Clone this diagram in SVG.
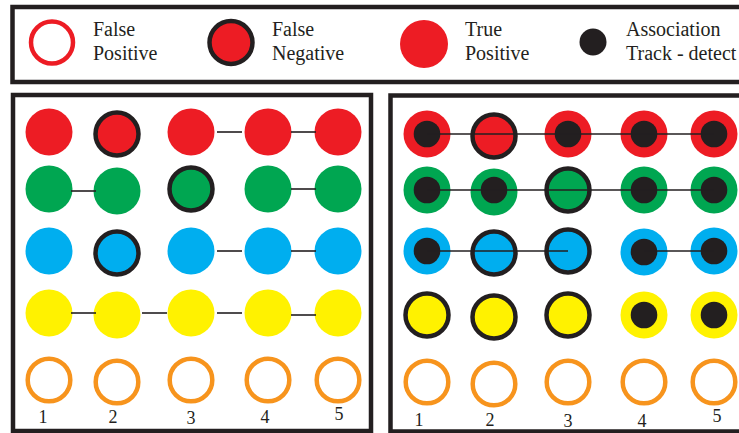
<svg xmlns="http://www.w3.org/2000/svg" width="739" height="433" viewBox="0 0 739 433">
<style>
  .frame{fill:none;stroke:#231F20;stroke-width:4.5}
  .r{fill:#ED1C24}.g{fill:#00A651}.b{fill:#00AEEF}.y{fill:#FFF200}
  .fn{stroke:#231F20;stroke-width:4.5}
  .ring{fill:#fff;stroke:#F7941D;stroke-width:4.5}
  .fp{fill:#fff;stroke:#ED1C24;stroke-width:4.5}
  .dot{fill:#231F20}
  .conn line{stroke:#231F20;stroke-width:1.6}
  .t{fill:#231F20}
  .lg{font-size:20px}
  .num{font-size:18px;text-anchor:middle}
</style>
<rect width="739" height="433" fill="#fff"/>

<!-- Legend -->
<g id="legend" font-family="'Liberation Serif', 'DejaVu Serif', serif">
  <rect class="frame" x="12.5" y="7" width="740" height="75"/>
  <g id="legend-fp"><circle class="fp" cx="52" cy="42.5" r="21"/><text class="t lg" x="93" y="36">False</text><text class="t lg" x="93" y="60">Positive</text></g>
  <g id="legend-fn"><circle class="r fn" cx="231" cy="42.5" r="21.5"/><text class="t lg" x="272" y="36">False</text><text class="t lg" x="272" y="60">Negative</text></g>
  <g id="legend-tp"><circle class="r" cx="424" cy="44" r="24"/><text class="t lg" x="465" y="36">True</text><text class="t lg" x="465" y="60">Positive</text></g>
  <g id="legend-assoc"><circle class="dot" cx="593" cy="42" r="13.5"/><text class="t lg" x="626" y="36">Association</text><text class="t lg" x="626" y="60">Track - detect</text></g>
</g>

<!-- Left panel -->
<g id="left-panel" font-family="'Liberation Serif', 'DejaVu Serif', serif">
  <rect class="frame" x="13" y="95" width="358" height="336"/>
  <g id="L-r1c1"><circle class="r" cx="49" cy="132" r="23.5"/></g>
  <g id="L-r1c2"><circle class="r fn" cx="117" cy="134" r="21.5"/></g>
  <g id="L-r1c3"><circle class="r" cx="191" cy="132" r="23.5"/></g>
  <g id="L-r1c4"><circle class="r" cx="268" cy="132" r="23.5"/></g>
  <g id="L-r1c5"><circle class="r" cx="338" cy="132" r="23.5"/></g>

  <g id="L-r2c1"><circle class="g" cx="49" cy="189" r="23.5"/></g>
  <g id="L-r2c2"><circle class="g" cx="117" cy="191" r="23.5"/></g>
  <g id="L-r2c3"><circle class="g fn" cx="191" cy="189" r="21.5"/></g>
  <g id="L-r2c4"><circle class="g" cx="268" cy="189" r="23.5"/></g>
  <g id="L-r2c5"><circle class="g" cx="338" cy="189" r="23.5"/></g>

  <g id="L-r3c1"><circle class="b" cx="49" cy="251" r="23.5"/></g>
  <g id="L-r3c2"><circle class="b fn" cx="117" cy="253" r="21.5"/></g>
  <g id="L-r3c3"><circle class="b" cx="191" cy="251" r="23.5"/></g>
  <g id="L-r3c4"><circle class="b" cx="268" cy="251" r="23.5"/></g>
  <g id="L-r3c5"><circle class="b" cx="338" cy="251" r="23.5"/></g>

  <g id="L-r4c1"><circle class="y" cx="49" cy="313" r="23.5"/></g>
  <g id="L-r4c2"><circle class="y" cx="117" cy="315" r="23.5"/></g>
  <g id="L-r4c3"><circle class="y" cx="191" cy="313" r="23.5"/></g>
  <g id="L-r4c4"><circle class="y" cx="268" cy="313" r="23.5"/></g>
  <g id="L-r4c5"><circle class="y" cx="338" cy="313" r="23.5"/></g>

  <g id="L-r5c1"><circle class="ring" cx="49" cy="380" r="21.3"/></g>
  <g id="L-r5c2"><circle class="ring" cx="117" cy="382" r="21.3"/></g>
  <g id="L-r5c3"><circle class="ring" cx="191" cy="380" r="21.3"/></g>
  <g id="L-r5c4"><circle class="ring" cx="268" cy="380" r="21.3"/></g>
  <g id="L-r5c5"><circle class="ring" cx="338" cy="380" r="21.3"/></g>

  <text class="t num" x="43" y="423">1</text>
  <text class="t num" x="113" y="423">2</text>
  <text class="t num" x="191" y="424">3</text>
  <text class="t num" x="265" y="423">4</text>
  <text class="t num" x="339" y="420">5</text>
</g>

<!-- Right panel -->
<g id="right-panel" font-family="'Liberation Serif', 'DejaVu Serif', serif">
  <rect class="frame" x="390.5" y="95.5" width="360" height="336"/>
  <g id="R-r1c1"><circle class="r" cx="427" cy="134" r="23.5"/><circle class="dot" cx="427" cy="134" r="13.3"/></g>
  <g id="R-r1c2"><circle class="r fn" cx="494" cy="136" r="21.5"/></g>
  <g id="R-r1c3"><circle class="r" cx="568" cy="134" r="23.5"/><circle class="dot" cx="568" cy="134" r="13.3"/></g>
  <g id="R-r1c4"><circle class="r" cx="644" cy="134" r="23.5"/><circle class="dot" cx="644" cy="134" r="13.3"/></g>
  <g id="R-r1c5"><circle class="r" cx="714" cy="134" r="23.5"/><circle class="dot" cx="714" cy="134" r="13.3"/></g>

  <g id="R-r2c1"><circle class="g" cx="427" cy="190" r="23.5"/><circle class="dot" cx="427" cy="190" r="13.3"/></g>
  <g id="R-r2c2"><circle class="g" cx="494" cy="192" r="23.5"/><circle class="dot" cx="494" cy="190" r="13.3"/></g>
  <g id="R-r2c3"><circle class="g fn" cx="568" cy="190" r="21.5"/></g>
  <g id="R-r2c4"><circle class="g" cx="644" cy="190" r="23.5"/><circle class="dot" cx="644" cy="190" r="13.3"/></g>
  <g id="R-r2c5"><circle class="g" cx="714" cy="190" r="23.5"/><circle class="dot" cx="714" cy="190" r="13.3"/></g>

  <g id="R-r3c1"><circle class="b" cx="427" cy="251" r="23.5"/><circle class="dot" cx="427" cy="251" r="13.3"/></g>
  <g id="R-r3c2"><circle class="b fn" cx="494" cy="253" r="21.5"/></g>
  <g id="R-r3c3"><circle class="b fn" cx="568" cy="251" r="21.5"/></g>
  <g id="R-r3c4"><circle class="b" cx="644" cy="252" r="23.5"/><circle class="dot" cx="644" cy="252" r="13.3"/></g>
  <g id="R-r3c5"><circle class="b" cx="714" cy="251" r="23.5"/><circle class="dot" cx="714" cy="251" r="13.3"/></g>

  <g id="R-r4c1"><circle class="y fn" cx="427" cy="315" r="21.5"/></g>
  <g id="R-r4c2"><circle class="y fn" cx="494" cy="317" r="21.5"/></g>
  <g id="R-r4c3"><circle class="y fn" cx="568" cy="315" r="21.5"/></g>
  <g id="R-r4c4"><circle class="y" cx="644" cy="315" r="23.5"/><circle class="dot" cx="644" cy="315" r="13.3"/></g>
  <g id="R-r4c5"><circle class="y" cx="714" cy="315" r="23.5"/><circle class="dot" cx="714" cy="315" r="13.3"/></g>

  <g id="R-r5c1"><circle class="ring" cx="427" cy="382" r="21.3"/></g>
  <g id="R-r5c2"><circle class="ring" cx="494" cy="384" r="21.3"/></g>
  <g id="R-r5c3"><circle class="ring" cx="568" cy="382" r="21.3"/></g>
  <g id="R-r5c4"><circle class="ring" cx="644" cy="382" r="21.3"/></g>
  <g id="R-r5c5"><circle class="ring" cx="714" cy="382" r="21.3"/></g>

  <text class="t num" x="419" y="426">1</text>
  <text class="t num" x="490" y="426">2</text>
  <text class="t num" x="568" y="427">3</text>
  <text class="t num" x="642" y="427">4</text>
  <text class="t num" x="717" y="422">5</text>
</g>

<!-- Connectors -->
<g id="connectors" class="conn">
  <line x1="217" y1="132" x2="242" y2="132"/>
  <line x1="291" y1="132" x2="316" y2="132"/>
  <line x1="71" y1="191" x2="96" y2="191"/>
  <line x1="291" y1="189" x2="316" y2="189"/>
  <line x1="217" y1="251" x2="242" y2="251"/>
  <line x1="291" y1="251" x2="316" y2="251"/>
  <line x1="71" y1="313" x2="96" y2="313"/>
  <line x1="142" y1="313" x2="167" y2="313"/>
  <line x1="217" y1="313" x2="242" y2="313"/>
  <line x1="291" y1="315" x2="316" y2="315"/>
  <line x1="427" y1="134" x2="714" y2="134"/>
  <line x1="427" y1="190" x2="714" y2="190"/>
  <line x1="427" y1="251" x2="568" y2="251"/>
  <line x1="644" y1="251" x2="714" y2="251"/>
</g>
</svg>
